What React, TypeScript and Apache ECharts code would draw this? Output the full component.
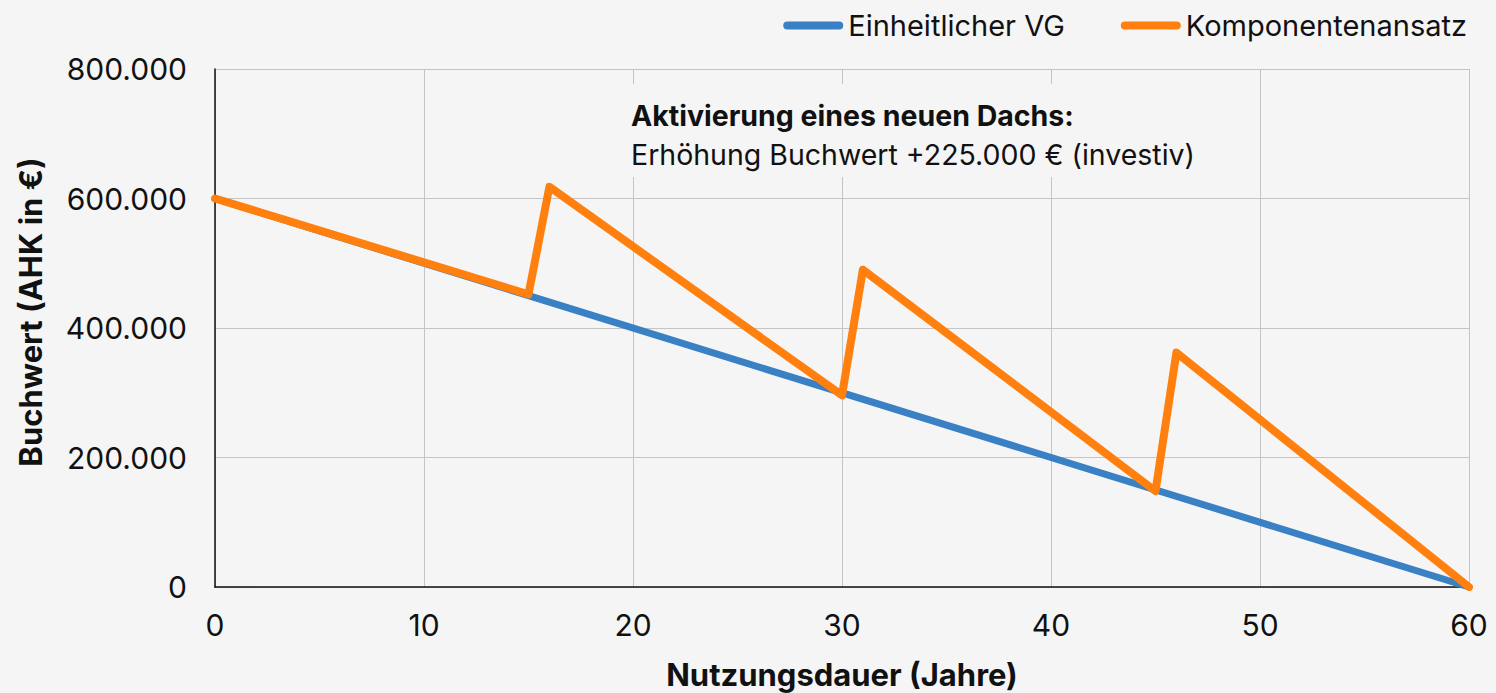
import React, { useEffect, useRef } from "react";
import * as echarts from "echarts";

const seriesNames = ["Einheitlicher VG", "Komponentenansatz"];
const blueYears = [0, 60];
const blueValues = [600000, 0];
const orangeYears = [0, 15, 16, 30, 31, 45, 46, 60];
const orangeValues = [600000, 452000, 618000, 296000, 490000, 148000, 362000, 0];
const xTicks = { min: 0, max: 60, interval: 10 };
const yTicks = { min: 0, max: 800000, interval: 200000 };
const xAxisName = "Nutzungsdauer (Jahre)";
const yAxisName = "Buchwert (AHK in €)";
const noteTitle = "Aktivierung eines neuen Dachs:";
const noteText = "Erhöhung Buchwert +225.000 € (investiv)";

const fmt = (v: number) => String(Math.round(v)).replace(/\B(?=(\d{3})+(?!\d))/g, ".");

export default function App() {
  const ref = useRef<HTMLDivElement>(null);
  useEffect(() => {
    if (!ref.current) return;
    const chart = echarts.init(ref.current, null, { renderer: "svg" });
    const font = "Inter, 'Noto Sans', sans-serif";
    const legendIcon = "path://M4,0 L56,0 A4,4 0 0 1 56,8 L4,8 A4,4 0 0 1 4,0 Z";
    const bg = "#f5f5f5";
    chart.setOption({
      animation: false,
      backgroundColor: bg,
      textStyle: { fontFamily: font },
      legend: {
        top: 6,
        right: 24,
        itemWidth: 60,
        itemHeight: 8,
        itemGap: 56,
        icon: legendIcon,
        textStyle: { fontSize: 29, color: "#111", fontFamily: font, padding: [0, 0, 0, 0] },
        data: seriesNames,
      },
      grid: { left: 215, right: 27, top: 69, bottom: 106, containLabel: false, outerBoundsMode: "none" },
      xAxis: {
        type: "value",
        min: xTicks.min,
        max: xTicks.max,
        interval: xTicks.interval,
        name: xAxisName,
        nameLocation: "middle",
        nameGap: 72,
        nameTextStyle: { fontSize: 31, fontWeight: "bold", color: "#111", fontFamily: font },
        axisLine: { show: true, lineStyle: { color: "#111", width: 1.5 } },
        axisTick: { show: false },
        axisLabel: { fontSize: 30, color: "#111", margin: 23, fontFamily: font },
        splitLine: { show: true, lineStyle: { color: "#c4c4c4", width: 1 } },
      },
      yAxis: {
        type: "value",
        min: yTicks.min,
        max: yTicks.max,
        interval: yTicks.interval,
        axisLine: { show: true, lineStyle: { color: "#111", width: 1.5 } },
        axisTick: { show: false },
        axisLabel: { fontSize: 30, color: "#111", margin: 28, fontFamily: font, formatter: (v: number) => fmt(v) },
        splitLine: { show: true, lineStyle: { color: "#c4c4c4", width: 1 } },
      },
      series: [
        {
          name: seriesNames[0],
          type: "line",
          data: blueYears.map((x, i) => [x, blueValues[i]]),
          showSymbol: false,
          lineStyle: { color: "#3a80c4", width: 7, cap: "round", join: "round" },
          itemStyle: { color: "#3a80c4" },
          z: 2,
        },
        {
          name: seriesNames[1],
          type: "line",
          data: orangeYears.map((x, i) => [x, orangeValues[i]]),
          showSymbol: false,
          lineStyle: { color: "#ff800e", width: 8, cap: "round", join: "round" },
          itemStyle: { color: "#ff800e" },
          z: 3,
        },
      ],
      graphic: [
        {
          type: "text",
          x: 30,
          y: 312,
          rotation: Math.PI / 2,
          style: {
            text: yAxisName,
            fontSize: 31,
            fontWeight: "bold",
            fill: "#111",
            fontFamily: font,
            align: "center",
            verticalAlign: "middle",
          },
        },
        {
          type: "rect",
          shape: { x: 618, y: 84, width: 592, height: 93 },
          style: { fill: bg },
          z: 50,
        },
        {
          type: "text",
          x: 631,
          y: 115,
          z: 51,
          style: { text: noteTitle, fontSize: 28.5, fontWeight: "bold", fill: "#111", fontFamily: font, verticalAlign: "middle" },
        },
        {
          type: "text",
          x: 631,
          y: 154,
          z: 51,
          style: { text: noteText, fontSize: 28.5, fill: "#111", fontFamily: font, verticalAlign: "middle" },
        },
      ],
    });
    return () => chart.dispose();
  }, []);
  return <div ref={ref} style={{ position: "fixed", left: 0, top: 0, width: 1496, height: 693 }} />;
}
